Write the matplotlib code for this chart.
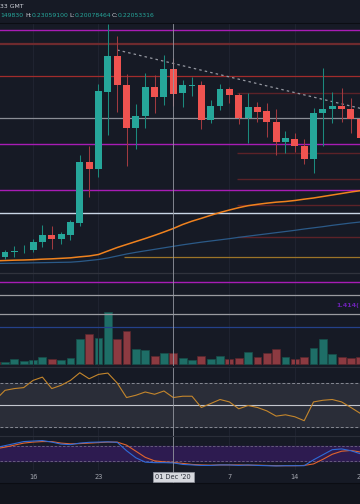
import numpy as np
import pandas as pd
import matplotlib
matplotlib.use("Agg")
import matplotlib.pyplot as plt
import matplotlib.dates as mdates

W, H = 360, 504

# daily candles, Nov 12 - Dec 21 2020
dates = pd.date_range("2020-11-12", "2020-12-21", freq="D")
opens = [0.1106, 0.1103, 0.1131, 0.1140, 0.1142, 0.1192, 0.1230, 0.1206, 0.1232, 0.1306,
         0.1672, 0.1628, 0.2093, 0.2306, 0.2132, 0.1876, 0.1946, 0.2118, 0.2062, 0.2226,
         0.2082, 0.2129, 0.2132, 0.1922, 0.2008, 0.2108, 0.2072, 0.1932, 0.2002, 0.1974,
         0.1908, 0.1792, 0.1806, 0.1766, 0.1686, 0.1966, 0.1986, 0.2006, 0.1986, 0.1928]
highs = [0.1124, 0.1142, 0.1168, 0.1172, 0.1208, 0.1292, 0.1286, 0.1252, 0.1322, 0.1712,
         0.1766, 0.2138, 0.2498, 0.2426, 0.2198, 0.2018, 0.2206, 0.2192, 0.2312, 0.2294,
         0.2162, 0.2182, 0.2156, 0.2042, 0.2138, 0.2122, 0.2086, 0.2082, 0.2028, 0.2022,
         0.1988, 0.1858, 0.1842, 0.1806, 0.1992, 0.2232, 0.2092, 0.2116, 0.2052, 0.1970]
lows = [0.1082, 0.1088, 0.1102, 0.1124, 0.1132, 0.1162, 0.1148, 0.1176, 0.1202, 0.1286,
        0.1460, 0.1580, 0.1832, 0.1970, 0.1646, 0.1746, 0.1872, 0.1966, 0.2012, 0.2006,
        0.2002, 0.2066, 0.1866, 0.1902, 0.1982, 0.2022, 0.1898, 0.1782, 0.1912, 0.1822,
        0.1712, 0.1726, 0.1732, 0.1656, 0.1602, 0.1766, 0.1902, 0.1912, 0.1846, 0.1760]
closes = [0.1100, 0.1130, 0.1135, 0.1143, 0.1192, 0.1232, 0.1206, 0.1238, 0.1310, 0.1672,
          0.1626, 0.2096, 0.2304, 0.2132, 0.1874, 0.1946, 0.2120, 0.2062, 0.2226, 0.2078,
          0.2132, 0.2134, 0.1922, 0.2008, 0.2108, 0.2072, 0.1932, 0.2002, 0.1972, 0.1908,
          0.1792, 0.1812, 0.1766, 0.1686, 0.1966, 0.1988, 0.2008, 0.1986, 0.1928, 0.1812]
volume = [46, 46, 94, 60, 80, 134, 106, 74, 114, 494, 594, 526, 1046, 500, 666, 300, 280, 160,
          220, 214, 114, 80, 160, 94, 154, 94, 114, 240, 140, 220, 306, 146, 94, 146, 320, 494,
          200, 134, 120, 134]  # millions
ma_fast = [0.1077, 0.1079, 0.1081, 0.1082, 0.1084, 0.1087, 0.1089, 0.1092, 0.1095, 0.1101,
           0.1106, 0.1115, 0.1136, 0.1157, 0.1175, 0.1193, 0.1211, 0.1230, 0.1250, 0.1271,
           0.1295, 0.1315, 0.1332, 0.1350, 0.1367, 0.1382, 0.1396, 0.1408, 0.1416, 0.1423,
           0.1429, 0.1433, 0.1439, 0.1447, 0.1454, 0.1463, 0.1472, 0.1481, 0.1490, 0.1498]
ma_slow = [0.1061, 0.1062, 0.1063, 0.1064, 0.1065, 0.1066, 0.1067, 0.1068, 0.1069, 0.1073,
           0.1079, 0.1085, 0.1094, 0.1106, 0.1118, 0.1128, 0.1137, 0.1146, 0.1155, 0.1164,
           0.1173, 0.1181, 0.1189, 0.1196, 0.1203, 0.1210, 0.1218, 0.1225, 0.1232, 0.1239,
           0.1246, 0.1253, 0.1260, 0.1268, 0.1275, 0.1282, 0.1290, 0.1297, 0.1304, 0.1310]
rsi = [55, 63.6, 65.2, 66.1, 72.7, 75.7, 65.2, 68.2, 72.7, 79.7, 74.2, 78.2, 79.4, 70.3, 57,
       59.1, 62.1, 60, 63, 57, 58.2, 58.2, 47.9, 51.5, 55.2, 53, 46.7, 49.7, 47.9, 44.8, 40,
       41.2, 39.4, 35.8, 53, 54.5, 55.2, 53, 47.9, 42.5]
stoch_k = [72, 80, 88, 96, 98, 100, 94, 86, 84, 90, 93, 94, 95, 93, 60, 32, 15, 13, 13, 12,
           6, 4, 2, 2, 4, 4, 2, 4, 2, 1, 0, 1, 1, 1, 24, 44, 64, 67, 60, 48]
stoch_d = [68, 74, 82, 90, 94, 96, 96, 90, 87, 88, 90, 92, 94, 94, 82, 58, 34, 20, 16, 14,
           10, 6, 4, 3, 4, 4, 4, 3, 3, 2, 1, 1, 1, 2, 8, 26, 46, 58, 61, 55]

# drawn levels (price)
full_levels = [0.2460, 0.2376, 0.2186, 0.1932, 0.1776, 0.1500, 0.1364, 0.1002, 0.0948, 0.0870, 0.0756, 0.0678]
full_colors = ['#a81cb5', '#6e2a2e', '#a12c2c', '#8a8d95', '#a81cb5', '#a81cb5', '#c9d6e6',
               '#30333d', '#a81cb5', '#9a9ba0', '#9a9ba0', '#24418a']
full_widths = [1.0, 1.6, 0.9, 0.9, 1.0, 1.0, 1.0, 0.9, 1.0, 0.9, 0.9, 0.9]
zone_levels = [0.2086, 0.1726, 0.1566, 0.1412, 0.1218]
zone_start = "2020-12-08"
support_level = 0.1098
support_start = "2020-11-26"
trend_dates = ["2020-11-25", "2020-12-21"]
trend_prices = [0.2342, 0.1992]
fib_label = "1.414("
fib_price = 0.0812
cross_date = "2020-12-01"
tick_dates = ["2020-11-16", "2020-11-23", "2020-12-07", "2020-12-14", "2020-12-21"]
tick_labels = ["16", "23", "7", "14", "21"]

BG = '#161a25'
UP, DOWN = '#26a69a', '#ef5350'

x = mdates.date2num(dates)
o, h, l, c = map(np.array, (opens, highs, lows, closes))
up = c >= o
x0 = mdates.date2num(pd.Timestamp("2020-11-13"))
xlim = (x0 - 0.535, x0 + 37.97)


def rect(top, bottom):
    return [0, 1 - bottom / H, 1, (bottom - top) / H]


fig = plt.figure(figsize=(W / 100, H / 100), dpi=100, facecolor=BG)

ax_vol = fig.add_axes(rect(23.5, 366), facecolor=BG)
ax = fig.add_axes(rect(23.5, 366), facecolor='none')
ax_rsi = fig.add_axes(rect(367.5, 436), facecolor=BG)
ax_st = fig.add_axes(rect(436.5, 470), facecolor=BG)
ax_t = fig.add_axes(rect(470, 483), facecolor=BG)
ax_foot = fig.add_axes(rect(483.5, 504), facecolor='#12151d')

for a in (ax_vol, ax, ax_rsi, ax_st, ax_t, ax_foot):
    a.set_xlim(*xlim)
    a.set_xticks([])
    a.set_yticks([])
    for s in a.spines.values():
        s.set_visible(False)

# faint vertical grid
for a in (ax, ax_rsi, ax_st):
    for d in tick_dates:
        a.axvline(mdates.date2num(pd.Timestamp(d)), color='#1f2330', lw=0.8, zorder=0)

# volume
ax_vol.set_ylim(-40, 6810)
ax_vol.bar(x, volume, width=0.84, color=np.where(up, '#1e6e67', '#8c3a41'),
           edgecolor=np.where(up, '#164f4a', '#5a262c'), linewidth=0.5)

# price
ax.set_ylim(0.0446, 0.2501)
for p, col, lw in zip(full_levels, full_colors, full_widths):
    ax.axhline(p, color=col, lw=lw, zorder=1)
zx = mdates.date2num(pd.Timestamp(zone_start)) - 0.2
for p in zone_levels:
    ax.hlines(p, zx, xlim[1], color='#5c2228', lw=1.0, zorder=1)
ax.hlines(support_level, mdates.date2num(pd.Timestamp(support_start)) - 0.3, xlim[1],
          color='#9c7428', lw=0.9, zorder=1)
tx = mdates.date2num(pd.to_datetime(trend_dates))
ax.plot(tx, trend_prices, color='#9598a1', lw=0.9, ls=(0, (2, 2.5)), zorder=2)

ax.plot(x, ma_slow, color='#2b5a88', lw=0.9, zorder=2)
ax.plot(x, ma_fast, color='#f0821e', lw=1.1, zorder=2)

ax.vlines(x, l, h, color=np.where(up, '#1b8a7e', '#a03a40'), lw=0.75, zorder=3)
body_lo = np.minimum(o, c)
body_h = np.maximum(np.abs(c - o), 0.0004)
ax.bar(x, body_h, bottom=body_lo, width=0.74, color=np.where(up, UP, DOWN), lw=0, zorder=4)

ax.text(xlim[1] - 0.08, fib_price, fib_label, color='#6d21b5', fontsize=4.6, va='center',
        ha='right', fontweight='bold')

# RSI
ax_rsi.set_ylim(21.8, 84.5)
ax_rsi.axhspan(30, 70, color='#2a2d38', zorder=0)
ax_rsi.axhline(70, color='#868993', lw=0.7, ls=(0, (3, 2)))
ax_rsi.axhline(30, color='#868993', lw=0.7, ls=(0, (3, 2)))
ax_rsi.axhline(50, color='#c3c6ce', lw=0.8)
ax_rsi.plot(x, rsi, color='#c4862c', lw=0.8, zorder=3)

# Stoch RSI
ax_st.set_ylim(-16, 116)
ax_st.axhspan(20, 80, color='#2d1b50', zorder=0)
ax_st.axhline(80, color='#6f6685', lw=0.6, ls=(0, (3, 2)))
ax_st.axhline(20, color='#6f6685', lw=0.6, ls=(0, (3, 2)))
ax_st.plot(x, stoch_d, color='#e0642e', lw=0.8, zorder=3)
ax_st.plot(x, stoch_k, color='#2f6bd8', lw=0.8, zorder=4)

# crosshair
xc = mdates.date2num(pd.Timestamp(cross_date))
for a in (ax, ax_rsi, ax_st, ax_t):
    a.axvline(xc, color='#9598a1', lw=0.7, alpha=0.85, zorder=6)

# time axis
ax_t.set_ylim(0, 1)
for d, lab in zip(tick_dates, tick_labels):
    ax_t.text(mdates.date2num(pd.Timestamp(d)), 0.45, lab, color='#a3a6af', fontsize=4.8,
              ha='center', va='center', clip_on=False)
ax_t.text(xc, 0.45, "01 Dec '20", color='#2a2e39', fontsize=4.8, ha='center', va='center',
          zorder=7, bbox=dict(boxstyle='square,pad=0.35', fc='#d6d8de', ec='#9598a1', lw=0.5))

# separators and header
for yy, col in [(23.2, '#0b0d13'), (367, '#2a2e39'), (436.3, '#2a2e39'), (483.2, '#0b0d13')]:
    fig.add_artist(plt.Line2D([0, 1], [1 - yy / H] * 2, color=col, lw=0.8, transform=fig.transFigure))

fs = 4.4
fig.text(0.5 / W, 1 - 6 / H, "33 GMT", color='#d1d4dc', fontsize=fs, ha='left', va='center')
hy = 1 - 15.7 / H
fig.text(0.5 / W, hy, "149830", color=UP, fontsize=fs, ha='left', va='center')
for lab, lx, val, vx in [("H:", 25, "0.23059100", 32), ("L:", 69.3, "0.20078464", 74.5),
                         ("C:", 111.5, "0.22053316", 118)]:
    fig.text(lx / W, hy, lab, color='#d1d4dc', fontsize=fs, ha='left', va='center')
    fig.text(vx / W, hy, val, color=UP, fontsize=fs, ha='left', va='center')

fig.savefig("out.png", dpi=100, facecolor=BG)
